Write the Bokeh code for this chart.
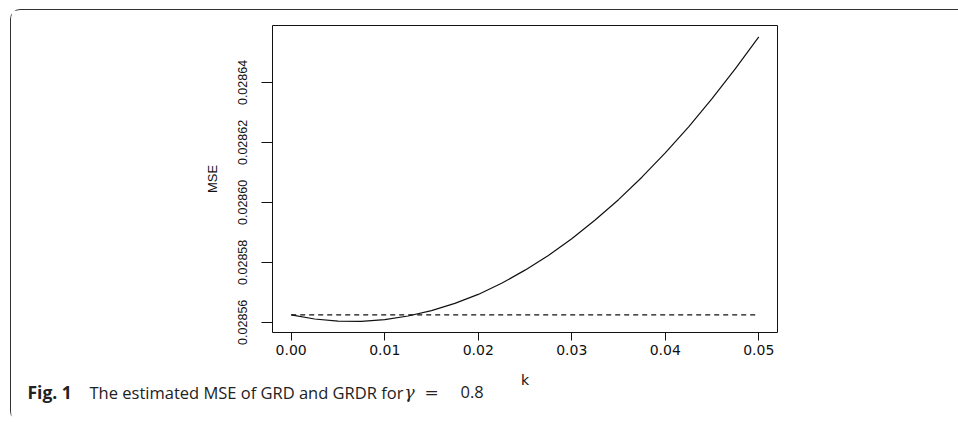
from bokeh.plotting import figure
from bokeh.layouts import column
from bokeh.models import (Range1d, FixedTicker, PrintfTickFormatter, Label,
                          ColumnDataSource)
from bokeh.embed import file_html
from bokeh.resources import INLINE

# ---- data ----
k_values = [0.0, 0.0025, 0.005, 0.0075, 0.01, 0.0125, 0.015, 0.0175, 0.02,
            0.0225, 0.025, 0.0275, 0.03, 0.0325, 0.035, 0.0375, 0.04,
            0.0425, 0.045, 0.0475, 0.05]
mse_grd = [0.0285625, 0.0285611, 0.0285604, 0.0285603, 0.0285609,
           0.0285621, 0.0285639, 0.0285663, 0.0285693, 0.0285730,
           0.0285774, 0.0285823, 0.0285879, 0.0285941, 0.0286009,
           0.0286084, 0.0286165, 0.0286252, 0.0286346, 0.0286446,
           0.0286552]
mse_grdr = [0.0285625] * len(k_values)

x_ticks = [0.0, 0.01, 0.02, 0.03, 0.04, 0.05]
y_ticks = [0.02856, 0.02858, 0.02860, 0.02862, 0.02864]

x_title = "k"
y_title = "MSE"
caption_bold = "Fig. 1"
caption_text = "The estimated MSE of GRD and GRDR for"
caption_symbol = "γ"
caption_eq = "="
caption_value = "0.8"

src = ColumnDataSource(dict(k=k_values, grd=mse_grd, grdr=mse_grdr))

W = 947
H = 353
left, top = 261, 15
fw, fh = 505, 307

p = figure(width=W, height=H, output_backend="svg", toolbar_location=None,
           x_range=Range1d(-0.002, 0.052), y_range=Range1d(0.0285566, 0.028659),
           min_border_left=left, min_border_right=W - left - fw,
           min_border_top=top, min_border_bottom=H - top - fh)
p.background_fill_color = "white"
p.border_fill_color = "white"
p.outline_line_color = "#111111"
p.outline_line_width = 1
p.xgrid.visible = False
p.ygrid.visible = False

p.line("k", "grd", source=src, line_color="#111111", line_width=1.2)
p.line("k", "grdr", source=src, line_color="#111111", line_width=1.2,
       line_dash="5 4")

# x axis (its title "k" is set in the strip below, to leave room for the caption)
xa = p.xaxis[0]
xa.ticker = FixedTicker(ticks=x_ticks)
xa.formatter = PrintfTickFormatter(format="%.2f")
xa.axis_line_color = None
xa.major_tick_in = 0
xa.major_tick_out = 8
xa.major_tick_line_color = "#111111"
xa.minor_tick_line_color = None
xa.major_label_text_font = "DejaVu Sans"
xa.major_label_text_font_size = "14px"
xa.major_label_text_color = "#111111"
xa.major_label_standoff = 4

# y axis
ya = p.yaxis[0]
ya.ticker = FixedTicker(ticks=y_ticks)
ya.formatter = PrintfTickFormatter(format="%.5f")
ya.axis_line_color = None
ya.major_tick_in = 0
ya.major_tick_out = 11
ya.major_tick_line_color = "#111111"
ya.minor_tick_line_color = None
ya.major_label_orientation = "vertical"
ya.major_label_text_font = "Liberation Sans"
ya.major_label_text_font_size = "12.5px"
ya.major_label_text_color = "#111111"
ya.major_label_standoff = 14
ya.axis_label = y_title
ya.axis_label_text_font = "Liberation Sans"
ya.axis_label_text_font_size = "13px"
ya.axis_label_text_font_style = "normal"
ya.axis_label_text_color = "#111111"
ya.axis_label_standoff = 16

# strip below: x-axis title and figure caption (pixel-like ranges, y down)
CH = 58
cap = figure(width=W, height=CH, output_backend="svg", toolbar_location=None,
             x_range=Range1d(0, W), y_range=Range1d(CH, 0),
             min_border=0, min_border_left=0, min_border_right=0,
             min_border_top=0, min_border_bottom=0)
cap.axis.visible = False
cap.grid.visible = False
cap.outline_line_color = None
cap.background_fill_color = "white"
cap.border_fill_color = "white"

for fig in (p, cap):
    try:
        fig.frame_align = False
    except Exception:
        pass

cap.add_layout(Label(x=left + fw / 2, y=16.5, text=x_title,
                     text_font="DejaVu Sans", text_font_size="14px",
                     text_color="#111111", text_baseline="alphabetic",
                     text_align="center"))

base_y = 28.5
cap_font = "Open Sans"
cap.add_layout(Label(x=16, y=base_y, text=caption_bold, text_font=cap_font,
                     text_font_size="17.5px", text_font_style="bold",
                     text_color="#222222", text_baseline="alphabetic",
                     text_align="left"))
cap.add_layout(Label(x=78, y=base_y, text=caption_text, text_font=cap_font,
                     text_font_size="16.5px", text_color="#222222",
                     text_baseline="alphabetic", text_align="left"))
cap.add_layout(Label(x=393, y=base_y, text=caption_symbol,
                     text_font="DejaVu Serif", text_font_size="17px",
                     text_font_style="italic", text_color="#222222",
                     text_baseline="alphabetic", text_align="left"))
cap.add_layout(Label(x=413, y=base_y, text=caption_eq,
                     text_font="DejaVu Serif", text_font_size="17px",
                     text_color="#222222", text_baseline="alphabetic",
                     text_align="left"))
cap.add_layout(Label(x=449, y=base_y, text=caption_value, text_font=cap_font,
                     text_font_size="16.5px", text_color="#222222",
                     text_baseline="alphabetic", text_align="left"))

layout = column(p, cap, spacing=0, styles={
    "margin-left": "10px",
    "margin-top": "9px",
    "border-top": "1px solid #333333",
    "border-left": "1px solid #333333",
    "border-top-left-radius": "10px",
    "border-bottom-left-radius": "10px",
})

open("out.html", "w").write(file_html(layout, INLINE))
